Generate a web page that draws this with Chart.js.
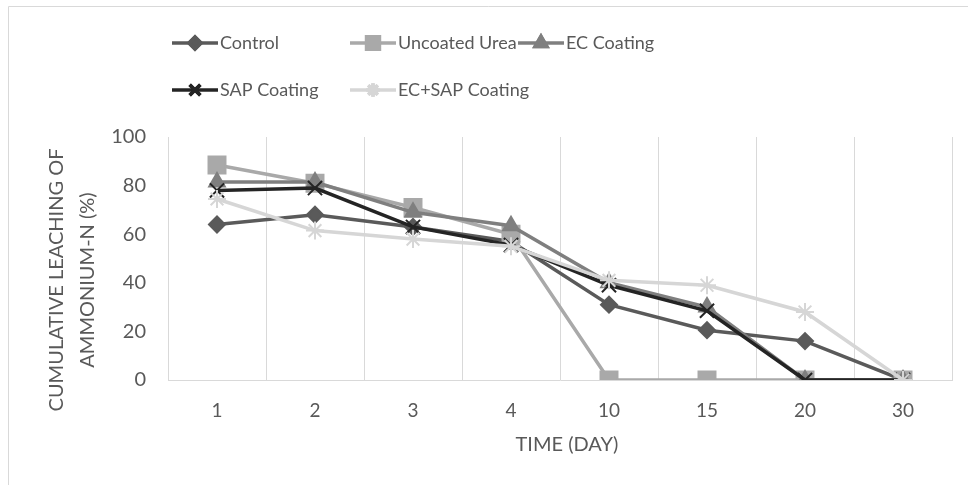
<!DOCTYPE html>
<html lang="en">
<head>
    <meta charset="UTF-8">
    <script src="https://cdn.jsdelivr.net/npm/chart.js@4.4.1/dist/chart.umd.min.js"></script>
    <style>
        html, body {
            margin: 0;
            padding: 0;
            background: #fff;
        }

        .chart-box {
            position: relative;
            width: 968px;
            height: 485px;
        }
    </style>
    <title>Cumulative leaching of ammonium-N</title>
</head>
<body>
    <div class="chart-box">
        <canvas id="leachChart" width="968" height="485"></canvas>
    </div>

    <script>
        // days (category labels on the x axis)
        const days = ['1', '2', '3', '4', '10', '15', '20', '30'];
        const yTicks = [0, 20, 40, 60, 80, 100];

        // cumulative leaching of ammonium-N (%)
        const control     = [64, 68, 63, 57, 31, 20.5, 16, 0];
        const uncoated    = [88.5, 81, 71, 60, 0, 0, 0, 0];
        const ecCoating   = [81.5, 81.5, 69, 63.5, 40, 30, 0, 0];
        const sapCoating  = [78, 79, 63, 55.5, 39, 28.5, 0, 0];
        const ecSapCoating = [74.5, 61.5, 58, 55, 41, 39, 28, 0];

        const seriesNames = ['Control', 'Uncoated Urea', 'EC Coating', 'SAP Coating', 'EC+SAP Coating'];

        const FONT = 'Lato, "Open Sans", sans-serif';

        const seriesStyle = [
            { color: '#5a5a5a', point: 'rectRot', radius: 8 },
            { color: '#a9a9a9', point: 'rect', radius: 12 },
            { color: '#7f7f7f', point: 'triangle', radius: 9 },
            { color: '#242424', point: 'crossRot', radius: 10 },
            { color: '#d6d6d6', point: 'star', radius: 9 }
        ];

        function makeDataset(label, data, style, i) {
            return {
                label: label,
                data: data,
                order: 10 - i, // later series on top, like the original
                borderColor: style.color,
                backgroundColor: style.color,
                borderWidth: 3.5,
                pointStyle: style.point,
                pointRadius: style.radius,
                pointBorderWidth: 2,
                pointBorderColor: style.color,
                pointBackgroundColor: style.color,
                tension: 0,
                fill: false
            };
        }

        // legend, axis titles and frame drawn by hand to match the original layout
        const decorPlugin = {
            id: 'decor',
            afterDraw(chart) {
                const ctx = chart.ctx;
                ctx.save();

                // outer frame
                ctx.strokeStyle = '#d9d9d9';
                ctx.lineWidth = 1;
                ctx.beginPath();
                ctx.moveTo(8.5, 490);
                ctx.lineTo(8.5, 6.5);
                ctx.lineTo(968, 6.5);
                ctx.stroke();

                // legend
                const slots = [
                    [172, 43], [350, 43], [518, 43],
                    [172, 90], [350, 90]
                ];
                ctx.font = '18px ' + FONT;
                ctx.textBaseline = 'middle';
                chart.data.datasets.forEach((ds, i) => {
                    const [x, y] = slots[i];
                    ctx.strokeStyle = ds.borderColor;
                    ctx.lineWidth = 3.5;
                    ctx.beginPath();
                    ctx.moveTo(x, y);
                    ctx.lineTo(x + 46, y);
                    ctx.stroke();
                    Chart.helpers.drawPoint(ctx, {
                        pointStyle: ds.pointStyle,
                        radius: ds.pointRadius * 0.75,
                        borderWidth: 2
                    }, x + 23, y);
                    ctx.fillStyle = ds.borderColor;
                    ctx.fill();
                    ctx.stroke();
                    ctx.fillStyle = '#595959';
                    ctx.textAlign = 'left';
                    ctx.fillText(ds.label, x + 48, y);
                });

                // y axis title (two lines)
                ctx.fillStyle = '#595959';
                ctx.font = '20px ' + FONT;
                ctx.textAlign = 'center';
                ctx.translate(72, 280);
                ctx.rotate(-Math.PI / 2);
                ctx.fillText('CUMULATIVE LEACHING OF', 0, -15);
                ctx.fillText('AMMONIUM-N (%)', 0, 16);
                ctx.restore();

                // x axis title
                ctx.save();
                ctx.fillStyle = '#595959';
                ctx.font = '20px ' + FONT;
                ctx.textAlign = 'center';
                ctx.textBaseline = 'middle';
                ctx.fillText('TIME (DAY)', 567, 445);
                ctx.restore();
            }
        };

        const ctx = document.getElementById('leachChart').getContext('2d');
        const chart = new Chart(ctx, {
            type: 'line',
            data: {
                labels: days,
                datasets: seriesNames.map((name, i) =>
                    makeDataset(name, [control, uncoated, ecCoating, sapCoating, ecSapCoating][i], seriesStyle[i], i))
            },
            options: {
                responsive: false,
                animation: false,
                layout: {
                    padding: { top: 137, right: 16, left: 0, bottom: 0 }
                },
                plugins: {
                    legend: { display: false },
                    tooltip: { enabled: false }
                },
                scales: {
                    x: {
                        offset: true,
                        afterFit(scale) { scale.height = 105; },
                        grid: {
                            offset: true,
                            color: '#d9d9d9',
                            lineWidth: 1,
                            drawTicks: false
                        },
                        border: { color: '#d9d9d9', width: 1 },
                        ticks: {
                            color: '#595959',
                            font: { family: FONT, size: 19 },
                            padding: 19
                        }
                    },
                    y: {
                        min: 0,
                        max: 100,
                        afterFit(scale) { scale.width = 168; },
                        afterBuildTicks(scale) {
                            scale.ticks = yTicks.map(v => ({ value: v }));
                        },
                        grid: { display: false, drawTicks: false },
                        border: { color: '#d9d9d9', width: 1 },
                        ticks: {
                            color: '#595959',
                            font: { family: FONT, size: 20 },
                            padding: 22
                        }
                    }
                }
            },
            plugins: [decorPlugin]
        });
    </script>
</body>
</html>
